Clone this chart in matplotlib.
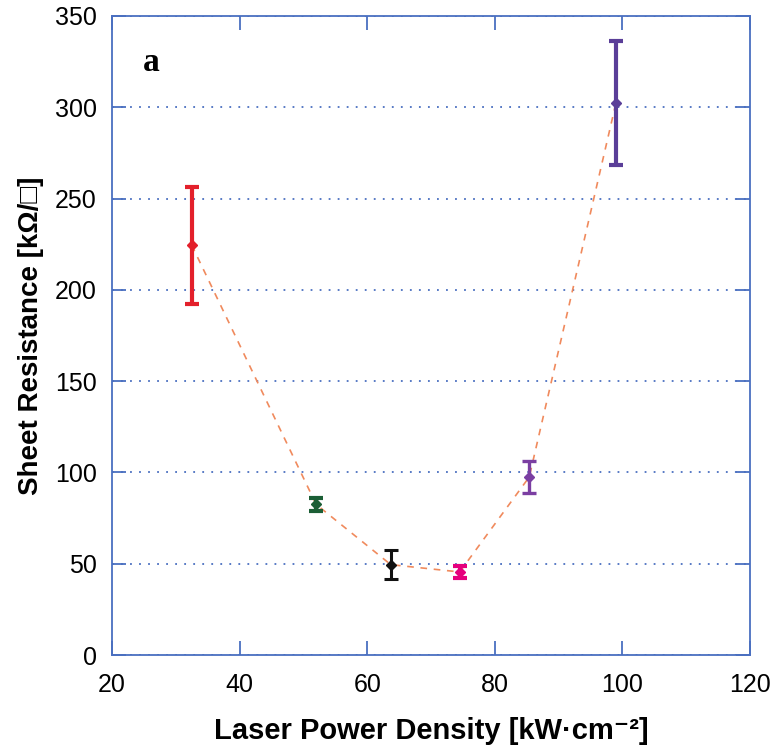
import matplotlib
matplotlib.use("Agg")
import matplotlib.pyplot as plt

# data
power = [32.5, 52.0, 63.7, 74.5, 85.4, 99.0]
resistance = [224.5, 82.5, 49.5, 45.5, 97.5, 302.5]
error = [32.0, 3.5, 8.0, 3.5, 9.0, 34.0]
colors = ["#e3202b", "#1b5e35", "#111111", "#e6007e", "#7b3fa2", "#5a3e98"]
widths = [3.0, 3.0, 2.2, 3.0, 2.4, 3.0]

plt.rcParams['font.family'] = ['Liberation Sans', 'DejaVu Sans']

fig = plt.figure(figsize=(7.76, 7.53), dpi=100)
ax = fig.add_axes([0.1443, 0.1301, 0.8222, 0.8487])

ax.plot(power, resistance, linestyle=(0, (4, 4)), color="#f08a5d", lw=1.2, zorder=2)

for x, y, e, c, w in zip(power, resistance, error, colors, widths):
    ax.errorbar(x, y, yerr=e, fmt="D", color=c, ms=5, elinewidth=w,
                capsize=5, capthick=w, zorder=3)

ax.set_xlim(20, 120)
ax.set_ylim(0, 350)
ax.set_xticks(range(20, 121, 20))
ax.set_yticks(range(0, 351, 50))

spine_c = "#4a6fc0"
for s in ax.spines.values():
    s.set_color(spine_c)
    s.set_linewidth(1.3)
ax.tick_params(direction="in", length=10, width=1.3, color=spine_c,
               top=True, right=True, labelsize=18)
ax.tick_params(axis="x", pad=13)
ax.tick_params(axis="y", pad=11)
ax.yaxis.grid(True, linestyle=(0, (1, 4)), color=spine_c, lw=1.3)
ax.set_axisbelow(True)

ax.set_xlabel("Laser Power Density [kW\u00b7cm\u207b\u00b2]", fontsize=21,
              fontweight="bold", labelpad=14)
ax.set_ylabel("Sheet Resistance [k\u03a9/\u25a1]", fontsize=20,
              fontweight="bold", labelpad=8)

ax.text(0.048, 0.927, "a", transform=ax.transAxes, fontsize=24,
        fontweight="bold", family="Liberation Serif", va="center")

fig.savefig("out.png", dpi=100)
